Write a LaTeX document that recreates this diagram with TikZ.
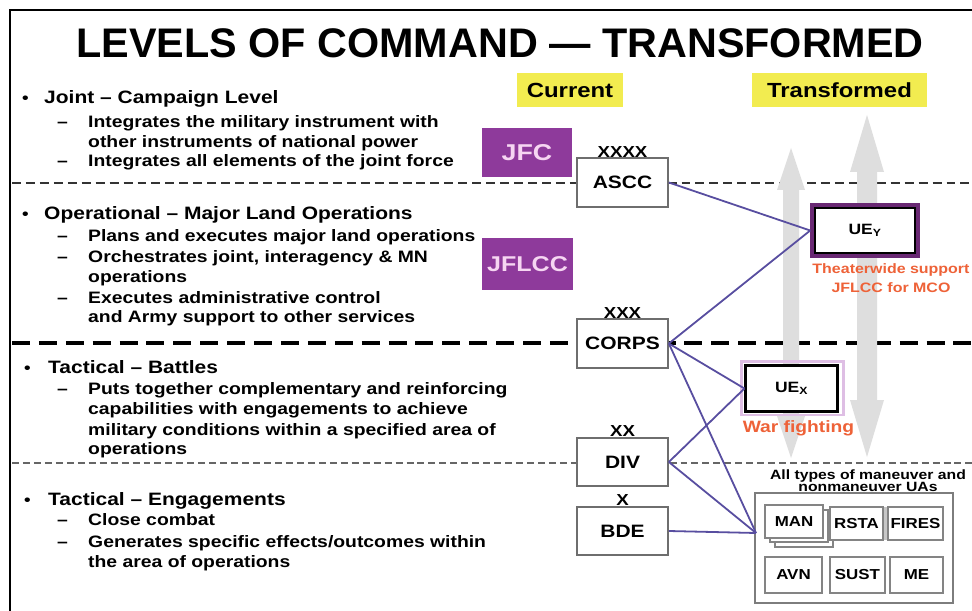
\documentclass[tikz,border=0pt]{standalone}
\usepackage{fontspec}
\setmainfont{Liberation Sans}[FakeStretch=1.17]
\newfontfamily\titlefont{Liberation Sans}
\usetikzlibrary{calc}

\definecolor{jpurple}{RGB}{142,58,155}
\definecolor{jpink}{RGB}{246,214,242}
\definecolor{uepurple}{RGB}{105,40,115}
\definecolor{uelav}{RGB}{222,190,228}
\definecolor{hilite}{RGB}{242,236,80}
\definecolor{linkblue}{RGB}{88,78,160}
\definecolor{notered}{RGB}{238,98,56}
\definecolor{arrowgray}{RGB}{222,222,222}
\definecolor{boxgray}{RGB}{110,110,110}

\newcommand\fs[1]{\fontsize{#1}{#1}\selectfont\bfseries}

\begin{document}
\begin{tikzpicture}[x=1bp,y=-1bp,
  hd/.style={anchor=base west, inner sep=0, font=\fs{18}},
  sub/.style={anchor=base west, inner sep=0, font=\fs{16.6}},
  bul/.style={anchor=base west, inner sep=0, font=\fs{16}},
  echelon/.style={draw=boxgray, line width=2, fill=white, minimum width=91,
    minimum height=49, inner sep=0, font=\fs{18}},
  rank/.style={inner sep=0, font=\fs{16}, anchor=base},
  cmd/.style={fill=jpurple, text=jpink, inner sep=0, font=\fs{23}},
  tag/.style={fill=hilite, inner sep=0, font=\fs{20.5}, minimum height=34},
  link/.style={draw=linkblue, line width=1.8},
  note/.style={text=notered, inner sep=0, font=\fs{13.7}, anchor=base},
  uabox/.style={draw=boxgray!85, line width=2, fill=white, inner sep=0,
    minimum height=33, font=\fs{14.5}},
]
% page and frame
\fill[white] (0,0) rectangle (972,611);
\useasboundingbox (0,0) rectangle (972,611);
\draw[line width=3] (10,611) -- (10,10) -- (972,10);

% level separators
\draw[line width=2, dash pattern=on 9 off 5, black!80] (12,183) -- (972,183);
\draw[line width=4.5, dash pattern=on 18 off 9] (12,343) -- (972,343);
\draw[line width=3, dash pattern=on 7 off 4, black!60] (12,463) -- (972,463);

% two-way grey arrows
\fill[arrowgray] (791,148) -- (805,190) -- (799,190) -- (799,416) -- (805,416)
  -- (791,458) -- (777,416) -- (783,416) -- (783,190) -- (777,190) -- cycle;
\fill[arrowgray] (867,115) -- (884,172) -- (877,172) -- (877,400) -- (884,400)
  -- (867,457) -- (850,400) -- (857,400) -- (857,172) -- (850,172) -- cycle;

% title
\node[anchor=base, inner sep=0, font=\titlefont\bfseries\fontsize{41.5}{42}\selectfont]
  (title) at (500,57.7) {LEVELS OF COMMAND — TRANSFORMED};

% left column text
\node[bul] (b1) at (22,104) {•};
\node[hd] (h1) at (44,104) {Joint – Campaign Level};
\node[sub] (d11) at (57,128) {–};
\node[sub] (t11) at (88,128) {Integrates the military instrument with};
\node[sub] (t12) at (88,147.5) {other instruments of national power};
\node[sub] (d12) at (57,167) {–};
\node[sub] (t13) at (88,167) {Integrates all elements of the joint force};

\node[bul] (b2) at (22,220) {•};
\node[hd] (h2) at (44,220) {Operational – Major Land Operations};
\node[sub] (d21) at (57,242) {–};
\node[sub] (t21) at (88,242) {Plans and executes major land operations};
\node[sub] (d22) at (57,263) {–};
\node[sub] (t22) at (88,263) {Orchestrates joint, interagency \& MN};
\node[sub] (t23) at (88,283) {operations};
\node[sub] (d23) at (57,303) {–};
\node[sub] (t24) at (88,303) {Executes administrative control};
\node[sub] (t25) at (88,322) {and Army support to other services};

\node[bul] (b3) at (24,373) {•};
\node[hd] (h3) at (48,373) {Tactical – Battles};
\node[sub] (d31) at (57,394) {–};
\node[sub] (t31) at (88,394) {Puts together complementary and reinforcing};
\node[sub] (t32) at (88,414) {capabilities with engagements to achieve};
\node[sub] (t33) at (88,435) {military conditions within a specified area of};
\node[sub] (t34) at (88,454) {operations};

\node[bul] (b4) at (24,505) {•};
\node[hd] (h4) at (48,505) {Tactical – Engagements};
\node[sub] (d41) at (57,525) {–};
\node[sub] (t41) at (88,525) {Close combat};
\node[sub] (d42) at (57,547) {–};
\node[sub] (t42) at (88,547) {Generates specific effects/outcomes within};
\node[sub] (t43) at (88,567) {the area of operations};

% column headings
\node[tag, minimum width=106] (cur) at (570,90) {Current};
\node[tag, minimum width=175] (tra) at (839.5,90) {Transformed};

% joint commanders
\node[cmd, minimum width=90, minimum height=49] (jfc) at (527,152.5) {JFC};
\node[cmd, minimum width=91, minimum height=52, font=\fs{21.5}] (jflcc) at (527.5,264) {JFLCC};

% current echelons
\node[echelon] (ascc) at (622.5,182.5) {ASCC};
\node[echelon] (corps) at (622.5,343.5) {CORPS};
\node[echelon] (div) at (622.5,462) {DIV};
\node[echelon] (bde) at (622.5,531) {BDE};
\node[rank] (r4) at (ascc.north) {XXXX};
\node[rank] (r3) at (corps.north) {XXX};
\node[rank] (r2) at (div.north) {XX};
\node[rank] (r1) at (bde.north) {X};

% transformed echelons
\node[draw=uepurple, line width=5, fill=white, minimum width=105, minimum height=50,
  inner sep=0, font=\fs{15}] (uey) at (865,230.5) {UE\textsubscript{Y}};
\draw[line width=2.5] ($(uey.north west)+(5,5)$) rectangle ($(uey.south east)+(-5,-5)$);
\node[note] (n1) at (891,274) {Theaterwide support};
\node[note] (n2) at (891,292.5) {JFLCC for MCO};

\draw[uelav, line width=2.2] (741.5,361.5) rectangle (843.5,415);
\node[draw=black, line width=2.5, fill=white, minimum width=92, minimum height=46,
  inner sep=0, font=\fs{15}] (uex) at (791.5,388.5) {UE\textsubscript{X}};
\node[note, font=\fs{16.5}] (n3) at (798.5,432) {War fighting};

% units of action
\node[draw=boxgray!90, line width=2, fill=white, minimum width=198, minimum height=110,
  inner sep=0] (ua) at (854,548) {};
\node[inner sep=0, anchor=base, font=\fs{13.5}] (ual1) at (868,479) {All types of maneuver and};
\node[inner sep=0, anchor=base, font=\fs{13.5}] (ual2) at (868,491) {nonmaneuver UAs};
\fill[black!22] (882,507) rectangle (889,540);
\node[uabox, minimum width=58] (manb) at (804,530.5) {};
\node[uabox, minimum width=58] (manm) at (799,526) {};
\node[uabox, minimum width=58] (man) at (794,521.5) {MAN};
\node[uabox, minimum width=53] (rsta) at (856.5,523.5) {RSTA};
\node[uabox, minimum width=55] (fires) at (915.5,523.5) {FIRES};
\node[uabox, minimum width=57, minimum height=36] (avn) at (793.5,575) {AVN};
\node[uabox, minimum width=55, minimum height=36] (sust) at (857.5,575) {SUST};
\node[uabox, minimum width=53, minimum height=36] (me) at (916.5,575) {ME};
\coordinate (uain) at (756,533);

% command relationships
\draw[link] (ascc.east) -- (uey.west);
\draw[link] (corps.east) -- (uey.west);
\draw[link] (corps.east) -- (uex.west);
\draw[link] (corps.east) -- (uain);
\draw[link] (div.east) -- (uex.west);
\draw[link] (div.east) -- (uain);
\draw[link] (bde.east) -- (uain);
\end{tikzpicture}
\end{document}
